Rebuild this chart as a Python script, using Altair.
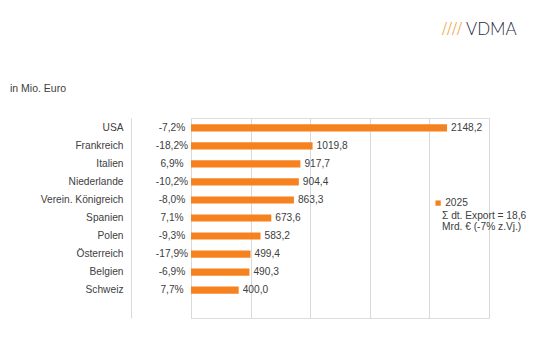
import altair as alt
import pandas as pd

countries = ["USA", "Frankreich", "Italien", "Niederlande", "Verein. Königreich",
             "Spanien", "Polen", "Österreich", "Belgien", "Schweiz"]
values = [2148.2, 1019.8, 917.7, 904.4, 863.3, 673.6, 583.2, 499.4, 490.3, 400.0]
changes = ["-7,2%", "-18,2%", "6,9%", "-10,2%", "-8,0%", "7,1%", "-9,3%", "-17,9%", "-6,9%", "7,7%"]
year = "2025"
x_ticks = [0, 500, 1000, 1500, 2000, 2500]
unit_note = "in Mio. Euro"
legend_line1 = "Σ dt. Export = 18,6"
legend_line2 = "Mrd. € (-7% z.Vj.)"

ORANGE = "#F5821F"
TEXT = "#404040"
GRID = "#d9d9d9"
FONT = "Liberation Sans"
FS = 10.2

df = pd.DataFrame({
    "country": countries,
    "value": values,
    "change": changes,
    "label": [f"{v:.1f}".replace(".", ",") for v in values],
    "year": [year] * len(values),
})

y_dom = countries + [" "]
yenc = alt.Y("country:N", sort=y_dom,
             scale=alt.Scale(domain=y_dom, paddingInner=0.6, paddingOuter=0.35),
             axis=alt.Axis(title=None, ticks=False, offset=60, labelPadding=8,
                           domainColor=GRID, labelColor=TEXT, labelFontSize=FS,
                           labelFont=FONT, labelLimit=200))
xscale = alt.Scale(domain=[0, 2500], nice=False)

base = alt.Chart(df)

bars = base.mark_bar(color=ORANGE).encode(
    x=alt.X("value:Q", scale=xscale,
            axis=alt.Axis(title=None, labels=False, ticks=False, domain=False,
                          grid=True, gridColor=GRID, values=x_ticks)),
    y=yenc,
    color=alt.Color("year:N", scale=alt.Scale(range=[ORANGE]),
                    legend=alt.Legend(title=None, orient="none", legendX=242, legendY=80,
                                      symbolType="square", symbolSize=28,
                                      labelFont=FONT, labelFontSize=FS, labelColor=TEXT,
                                      symbolStrokeWidth=0, labelOffset=2)),
)

vals = base.mark_text(align="left", dx=4, fontSize=FS, font=FONT, color=TEXT).encode(
    x=alt.X("value:Q", scale=xscale), y=yenc, text="label:N")

pct = base.mark_text(align="center", dx=-19, fontSize=FS, font=FONT, color=TEXT).encode(
    x=alt.datum(0), y=yenc, text="change:N")


def note_text(t, x, y, size=FS, color=TEXT, font=FONT, weight="normal"):
    return alt.Chart(pd.DataFrame({"t": [t]})).mark_text(
        align="left", baseline="middle", fontSize=size, font=font, fontWeight=weight,
        color=color).encode(x=alt.value(x), y=alt.value(y), text="t:N")


leg1 = note_text(legend_line1, 251, 97.5)
leg2 = note_text(legend_line2, 251, 109)
note = note_text(unit_note, -181, -29, size=10.5)
logo = note_text("VDMA", 275, -88, size=17, color="#1f2a44", font="Lato", weight=300)
stripes = note_text("////", 251, -88, size=18, color="#F0A040", font="Liberation Sans Narrow")

chart = alt.layer(bars, vals, pct, leg1, leg2, note, logo, stripes).properties(
    width=298, height=200, autosize="none",
    padding={"left": 183, "top": 110, "right": 42, "bottom": 30},
).configure_view(stroke=None).configure(background="white")

chart.save("out.html", embed_options={"renderer": "svg", "actions": False})
